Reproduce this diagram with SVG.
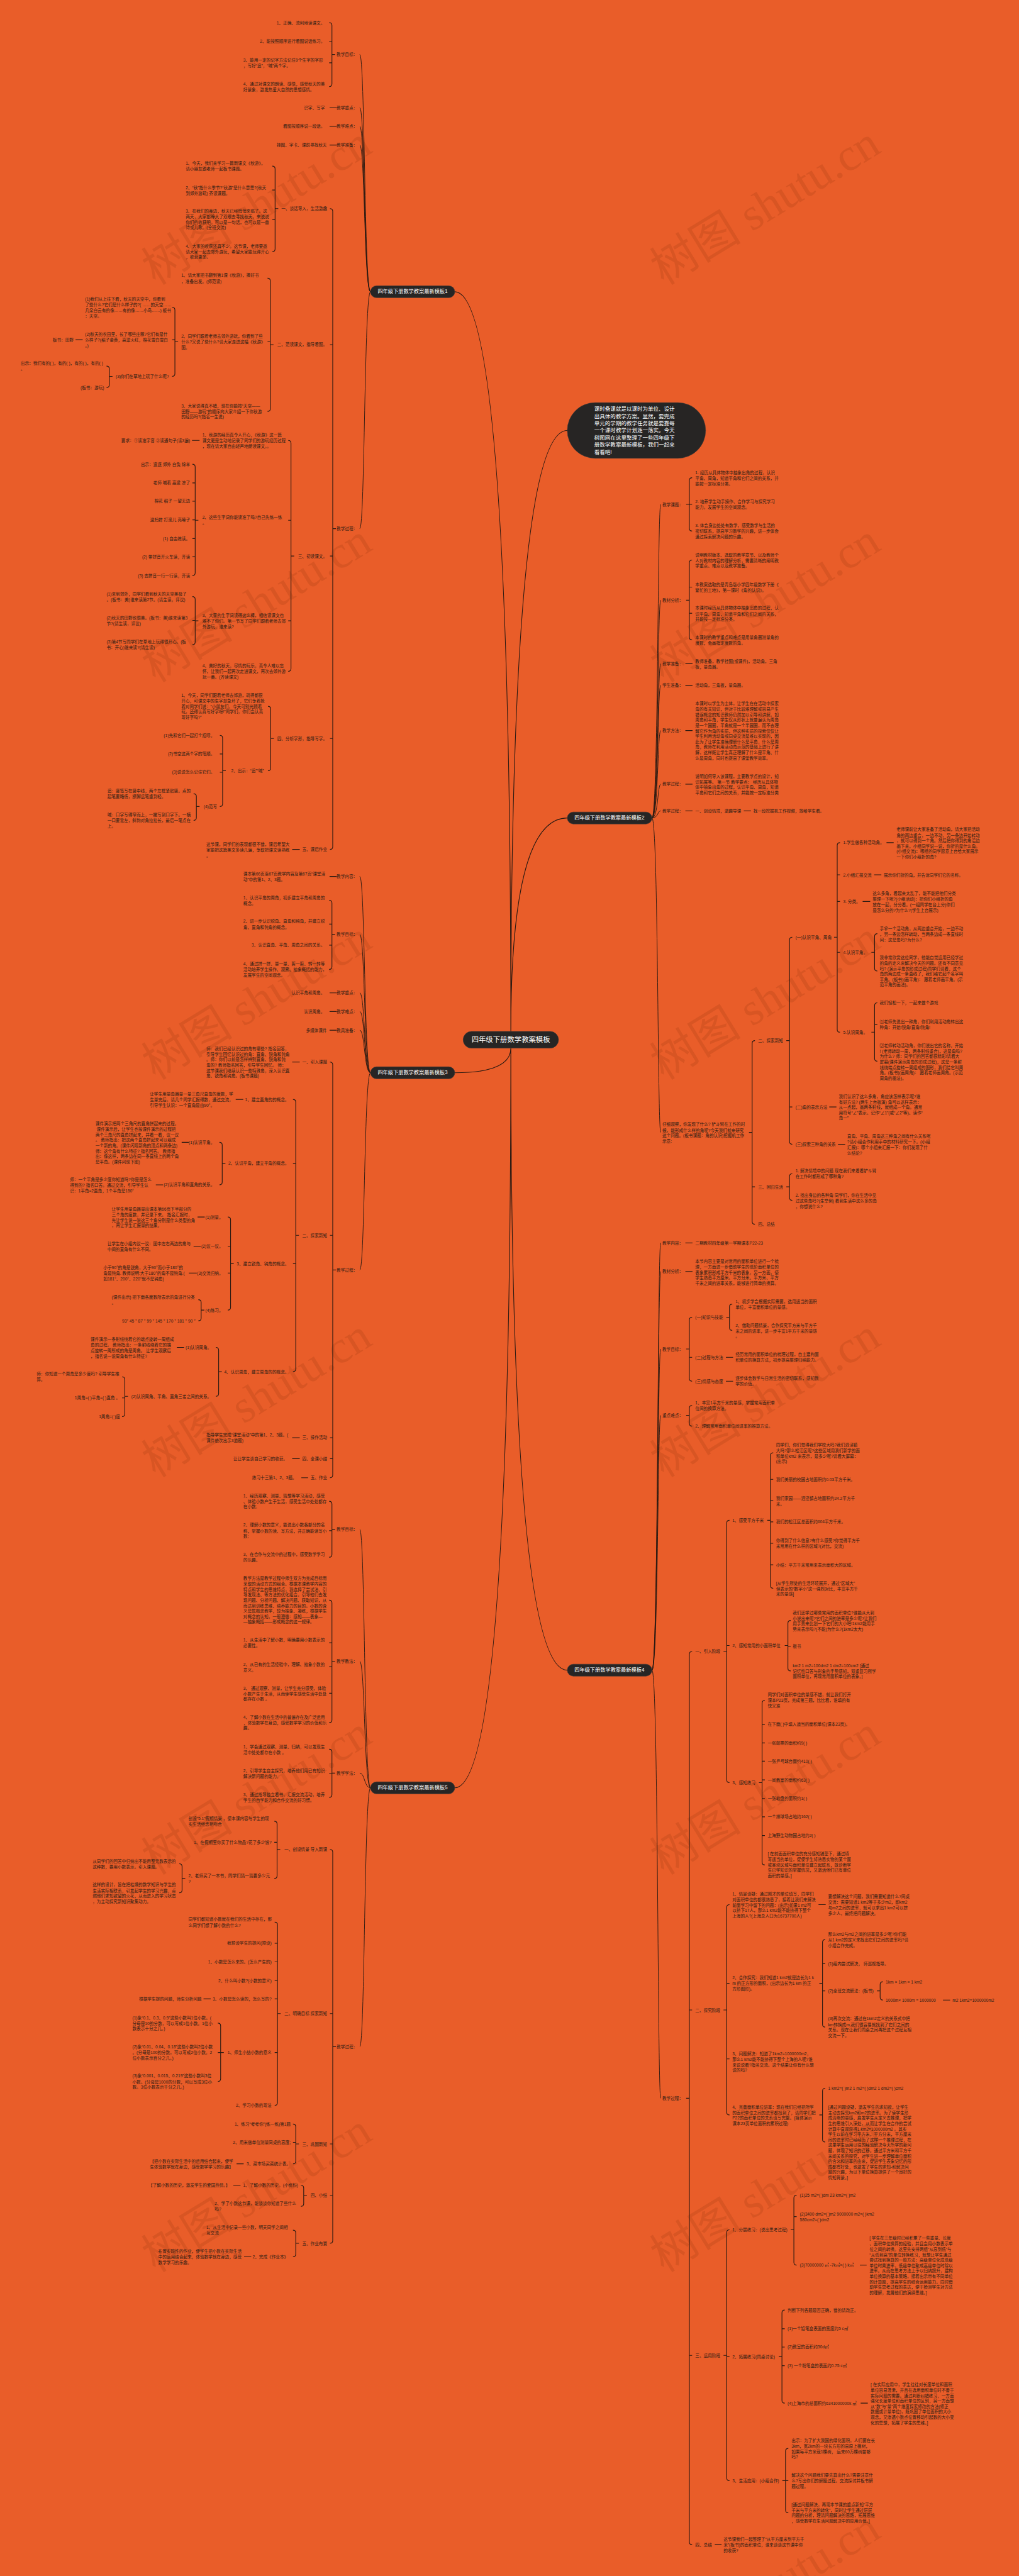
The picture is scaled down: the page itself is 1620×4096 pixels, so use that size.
<svg xmlns="http://www.w3.org/2000/svg" width="1620" height="4096" viewBox="0 0 1620 4096">
<style>
text{font-family:"Liberation Sans","Noto Sans CJK SC",sans-serif}
.t{font-size:10.5px;fill:#2b1c14;dominant-baseline:central}
.e{text-anchor:end}
.n{fill:#272524;stroke:#3d3a38;stroke-width:1}
.nt{font-size:13px;fill:#fff;text-anchor:middle;dominant-baseline:central}
.it{font-size:13.5px;fill:#fff;dominant-baseline:central}
.c{fill:none;stroke:#2a1a12;stroke-width:1.8}
.w{font-family:"Liberation Serif","Noto Sans CJK SC",serif;font-size:115px;fill:#7a2a0a;fill-opacity:.15;text-anchor:middle;dominant-baseline:central}
</style>
<rect width="1620" height="4096" fill="#E95D29"/>
<g transform="scale(0.632)">
<g id="watermarks">
<text class="w" x="646" y="517" transform="rotate(-31.5 646 517)">树图 shutu.cn</text>
<text class="w" x="646" y="1517" transform="rotate(-31.5 646 1517)">树图 shutu.cn</text>
<text class="w" x="646" y="2517" transform="rotate(-31.5 646 2517)">树图 shutu.cn</text>
<text class="w" x="646" y="3517" transform="rotate(-31.5 646 3517)">树图 shutu.cn</text>
<text class="w" x="646" y="4517" transform="rotate(-31.5 646 4517)">树图 shutu.cn</text>
<text class="w" x="646" y="5517" transform="rotate(-31.5 646 5517)">树图 shutu.cn</text>
<text class="w" x="1925" y="517" transform="rotate(-31.5 1925 517)">树图 shutu.cn</text>
<text class="w" x="1925" y="1517" transform="rotate(-31.5 1925 1517)">树图 shutu.cn</text>
<text class="w" x="1925" y="2517" transform="rotate(-31.5 1925 2517)">树图 shutu.cn</text>
<text class="w" x="1925" y="3517" transform="rotate(-31.5 1925 3517)">树图 shutu.cn</text>
<text class="w" x="1925" y="4517" transform="rotate(-31.5 1925 4517)">树图 shutu.cn</text>
<text class="w" x="1925" y="5517" transform="rotate(-31.5 1925 5517)">树图 shutu.cn</text>
<text class="w" x="1925" y="6517" transform="rotate(-31.5 1925 6517)">树图 shutu.cn</text>
</g>
<g id="connectors" class="c">
<path d="M1285,2595Q1285,734 1144,734M1285,2595Q1285,1083 1427,1083M1285,2595Q1285,2058 1427,2058M1285,2637Q1285,2699 1144,2699M1285,2637Q1285,4202 1427,4202M1285,2637Q1285,4498 1144,4498"/>
<path stroke-width="1.5" d="M932,734C916,734 918,137 905,137M932,734C916,734 918,271 905,271M932,734C916,734 918,318 905,318M932,734C916,734 918,365 905,365M932,734C916,734 918,1330 905,1330M932,2699C916,2699 918,2205 905,2205M932,2699C916,2699 918,2351 905,2351M932,2699C916,2699 918,2498 905,2498M932,2699C916,2699 918,2545 905,2545M932,2699C916,2699 918,2592 905,2592M932,2699C916,2699 918,3195 905,3195M932,4498C916,4498 918,3848 905,3848M932,4498C916,4498 918,4180 905,4180M932,4498C916,4498 918,4461 905,4461M932,4498C916,4498 918,5149 905,5149"/>
<path stroke-width="1.5" d="M1640,2058C1656,2058 1654,1269 1662,1269M1640,2058C1656,2058 1654,1510 1662,1510M1640,2058C1656,2058 1654,1670 1662,1670M1640,2058C1656,2058 1654,1724 1662,1724M1640,2058C1656,2058 1654,1838 1662,1838M1640,2058C1656,2058 1654,1973 1662,1973M1640,2058C1656,2058 1654,2040 1662,2040M1640,2058C1656,2058 1654,2849 1662,2849M1640,4202C1656,4202 1654,3127 1662,3127M1640,4202C1656,4202 1654,3199 1662,3199M1640,4202C1656,4202 1654,3394 1662,3394M1640,4202C1656,4202 1654,3561 1662,3561M1640,4202C1656,4202 1654,5279 1662,5279"/>
<path d="M828,57q7,0 7,7V211q0,7 -7,7M835,104h-7M835,158h-7M835,137h8
M830,525q7,0 7,7V2130q0,7 -7,7M837,867h-7M837,1399h-7M837,1858h-7M837,1330h8
M685,418q7,0 7,7V626q0,7 -7,7M692,478h-7M692,552h-7M692,525h8
M673,700q7,0 7,7V1028q0,7 -7,7M680,860h-7M680,867h8
M433,773q7,0 7,7V940q0,7 -7,7M440,855h-7M440,860h8
M268,921q7,0 7,7V968q0,7 -7,7M275,947h8
M725,1108q7,0 7,7V1682q0,7 -7,7M732,1309h-7M732,1562h-7M732,1399h8
M484,1168q7,0 7,7V1441q0,7 -7,7M491,1215h-7M491,1261h-7M491,1308h-7M491,1355h-7M491,1401h-7M491,1309h8
M484,1501q7,0 7,7V1615q0,7 -7,7M491,1561h-7M491,1562h8
M674,1777q7,0 7,7V1932q0,7 -7,7M681,1858h8
M553,1850q7,0 7,7V2022q0,7 -7,7M560,1897h-7M560,1943h-7M560,1939h8
M487,1997q7,0 7,7V2057q0,7 -7,7M494,2029h8
M829,271H847M829,318H847M829,365H847M483,1108H502M190,855H208M735,2137H754"/>
<path d="M828,2265q7,0 7,7V2432q0,7 -7,7M835,2325h-7M835,2378h-7M835,2351h8
M830,2672q7,0 7,7V3711q0,7 -7,7M837,3108h-7M837,3617h-7M837,3670h-7M837,3195h8
M737,2766q7,0 7,7V3444q0,7 -7,7M744,2927h-7M744,3179h-7M744,3108h8
M552,2874q7,0 7,7V2974q0,7 -7,7M559,2927h8
M573,3062q7,0 7,7V3289q0,7 -7,7M580,3136h-7M580,3203h-7M580,3179h8
M499,3270q7,0 7,7V3316q0,7 -7,7M506,3296h8
M543,3390q7,0 7,7V3506q0,7 -7,7M550,3451h8
M307,3464q7,0 7,7V3557q0,7 -7,7M314,3517h-7M314,3513h8
M829,2205H847M829,2498H847M829,2545H847M829,2592H847M735,2672H754M593,2766H612M457,2874H475M392,2981H410M497,3062H515M487,3136H505M475,3203H495M445,3390H463M735,3617H754M735,3670H754M758,3718H775"/>
<path d="M828,3777q7,0 7,7V3911q0,7 -7,7M835,3851h-7M835,3848h8
M828,4026q7,0 7,7V4327q0,7 -7,7M835,4133h-7M835,4193h-7M835,4260h-7M835,4180h8
M828,4401q7,0 7,7V4515q0,7 -7,7M835,4462h-7M835,4461h8
M830,4653q7,0 7,7V5637q0,7 -7,7M837,5066h-7M837,5394h-7M837,5523h-7M837,5149h8
M690,4582q7,0 7,7V4719q0,7 -7,7M697,4635h-7M697,4653h8
M451,4689q7,0 7,7V4755q0,7 -7,7M458,4726h8
M691,4836q7,0 7,7V5290q0,7 -7,7M698,4889h-7M698,4936h-7M698,4983h-7M698,5029h-7M698,5164h-7M698,5066h8
M548,5090q7,0 7,7V5230q0,7 -7,7M555,5164h-7M555,5164h8
M737,5344q7,0 7,7V5437q0,7 -7,7M744,5390h-7M744,5394h8
M757,5498q7,0 7,7V5544q0,7 -7,7M764,5523h8
M737,5611q7,0 7,7V5671q0,7 -7,7M744,5644h8
M512,5029H530M595,5444H613M587,5498H605M614,5678H632"/>
<path d="M1741,1202q-7,0 -7,7V1329q0,7 7,7M1734,1269h7M1734,1269h-8
M1741,1409q-7,0 -7,7V1603q0,7 7,7M1734,1477h7M1734,1543h7M1734,1510h-8
M1899,2618q-7,0 -7,7V3073q0,7 7,7M1892,2986h7M1892,2849h-8
M1993,2358q-7,0 -7,7V2872q0,7 7,7M1986,2785h7M1986,2618h-8
M2113,2120q-7,0 -7,7V2590q0,7 7,7M2106,2201h7M2106,2268h7M2106,2396h7M2106,2358h-8
M2207,2349q-7,0 -7,7V2436q0,7 7,7M2200,2396h-8
M2207,2523q-7,0 -7,7V2663q0,7 7,7M2200,2577h7M2200,2597h-8
M1993,2953q-7,0 -7,7V3013q0,7 7,7M1986,2986h-8
M1724,1670H1742M1724,1724H1742M1724,1838H1742M1724,1973H1742M1724,2040H1742M1871,2040H1889M2230,2120H2248M2199,2201H2217M2170,2268H2189M2086,2785H2104M2108,2879H2126"/>
<path d="M1741,3314q-7,0 -7,7V3468q0,7 7,7M1734,3415h7M1734,3394h-8
M1842,3281q-7,0 -7,7V3340q0,7 7,7M1835,3314h-8
M1741,3536q-7,0 -7,7V3581q0,7 7,7M1734,3561h-8
M1741,4155q-7,0 -7,7V6395q0,7 7,7M1734,5057h7M1734,5926h7M1734,5279h-8
M1835,3825q-7,0 -7,7V4478q0,7 7,7M1828,4140h7M1828,4155h-8
M1945,3655q-7,0 -7,7V3989q0,7 7,7M1938,3722h7M1938,3776h7M1938,3829h7M1938,3883h7M1938,3937h7M1938,3825h-8
M1989,4077q-7,0 -7,7V4197q0,7 7,7M1982,4142h7M1982,4140h-8
M1924,4278q-7,0 -7,7V4685q0,7 7,7M1917,4338h7M1917,4385h7M1917,4431h7M1917,4478h7M1917,4525h7M1917,4571h7M1917,4618h7M1917,4485h-8
M1835,4792q-7,0 -7,7V5314q0,7 7,7M1828,4990h7M1828,5180h7M1828,5057h-8
M2076,4880q-7,0 -7,7V5093q0,7 7,7M2069,4940h7M2069,5009h7M2069,4990h-8
M2221,4986q-7,0 -7,7V5025q0,7 7,7M2214,5009h-8
M2076,5254q-7,0 -7,7V5382q0,7 7,7M2069,5321h-8
M1835,5610q-7,0 -7,7V6234q0,7 7,7M1828,5929h7M1828,5926h-8
M2004,5523q-7,0 -7,7V5692q0,7 7,7M1997,5577h7M1997,5610h-8
M1974,5812q-7,0 -7,7V6039q0,7 7,7M1967,5859h7M1967,5905h7M1967,5952h7M1967,5929h-8
M1983,6160q-7,0 -7,7V6315q0,7 7,7M1976,6241h7M1976,6241h-8
M1724,3127H1742M1724,3199H1742M1826,3415H1844M1826,3475H1844M2059,4792H2077M2372,5032H2390M2163,5699H2180M2165,6046H2183M1798,6402H1815"/>
</g>
<g id="root"><rect class="n" x="1165" y="2595" width="240" height="42" rx="21"/><text class="nt" x="1285" y="2616" style="font-size:18px">四年级下册数学教案模板</text></g>
<g id="intro"><rect class="n" x="1427" y="1013" width="348" height="140" rx="70"/><text class="it" x="1495" y="1029">课时备课就是以课时为单位、设计<tspan x="1495" dy="18">出具体的教学方案。显然，要完成</tspan><tspan x="1495" dy="18">单元的学期的教学任务就是要靠每</tspan><tspan x="1495" dy="18">一个课时教学计划逐一落实。今天</tspan><tspan x="1495" dy="18">树图网在这里整理了一些四年级下</tspan><tspan x="1495" dy="18">册数学教案最新模板，我们一起来</tspan><tspan x="1495" dy="18">看看吧!</tspan></text></g>
<g id="b1"><rect class="n" x="932" y="719" width="212" height="30" rx="15"/><text class="nt" x="1038" y="734">四年级下册数学教案最新模板1</text></g>
<g id="b2"><rect class="n" x="1427" y="2043" width="213" height="30" rx="15"/><text class="nt" x="1533" y="2058">四年级下册数学教案最新模板2</text></g>
<g id="b3"><rect class="n" x="932" y="2684" width="212" height="30" rx="15"/><text class="nt" x="1038" y="2699">四年级下册数学教案最新模板3</text></g>
<g id="b4"><rect class="n" x="1427" y="4187" width="213" height="30" rx="15"/><text class="nt" x="1533" y="4202">四年级下册数学教案最新模板4</text></g>
<g id="b5"><rect class="n" x="932" y="4483" width="212" height="30" rx="15"/><text class="nt" x="1038" y="4498">四年级下册数学教案最新模板5</text></g>

<g id="b1-nodes">
<g id="b1a"><text class="t e" x="899" y="137">教学目标：</text></g>
<g id="b1b"><text class="t e" x="899" y="271">教学重点：</text></g>
<g id="b1c"><text class="t e" x="899" y="318">教学难点：</text></g>
<g id="b1d"><text class="t e" x="899" y="365">教学准备：</text></g>
<g id="b1e"><text class="t e" x="899" y="1330">教学过程：</text></g>
<g id="b1a1"><text class="t e" x="817" y="57">1、正确、流利地读课文。</text></g>
<g id="b1a2"><text class="t e" x="817" y="104">2、能按照顺序进行看图说话练习。</text></g>
<g id="b1a3"><text class="t" x="612" y="151">3、能用一定的记字方法记住9个生字的字形<tspan x="612" dy="13.6">，写好“追”，“喊”两个字。</tspan></text></g>
<g id="b1a4"><text class="t" x="612" y="211">4、通过对课文的朗读、感悟，感受秋天的美<tspan x="612" dy="13.6">好景象，激发热爱大自然的思想感情。</tspan></text></g>
<g id="b1b1"><text class="t e" x="817" y="271">识字、写字</text></g>
<g id="b1c1"><text class="t e" x="817" y="318">看图按顺序说一段话。</text></g>
<g id="b1d1"><text class="t e" x="822" y="365">挂图、字卡、课前寻找秋天</text></g>
<g id="b1e1"><text class="t e" x="823" y="525">一、谈话导入，生活激趣</text></g>
<g id="b1e2"><text class="t e" x="823" y="867">二、范读课文，指导看图。</text></g>
<g id="b1e3"><text class="t e" x="823" y="1399">三、初读课文。</text></g>
<g id="b1e4"><text class="t e" x="823" y="1858">四、分析字形，指导写字。</text></g>
<g id="b1e5"><text class="t e" x="823" y="2137">五、课后作业</text></g>
<g id="b1e1a"><text class="t" x="467" y="411">1、今天，我们来学习一篇新课文《秋游》，<tspan x="467" dy="13.6">请小朋友跟老师一起板书课题。</tspan></text></g>
<g id="b1e1b"><text class="t" x="467" y="472">2、“秋”指什么季节?“秋游”是什么意思?(秋天<tspan x="467" dy="13.6">到郊外游玩) 齐读课题。</tspan></text></g>
<g id="b1e1c"><text class="t" x="467" y="531">3、在我们的身边，秋天已经悄悄来临了。这<tspan x="467" dy="13.6">两天，大家都睁大了双眼去寻找秋天，来说说</tspan><tspan x="467" dy="13.6">你们的收获吧。可以是一句话，也可以是一首</tspan><tspan x="467" dy="13.6">诗或儿歌。(全班交流)</tspan></text></g>
<g id="b1e1d"><text class="t" x="467" y="619">4、大家的收获还真不少。这节课，老师要邀<tspan x="467" dy="13.6">请大家一起去郊外游玩，希望大家能玩得开心</tspan><tspan x="467" dy="13.6">，收获更多。</tspan></text></g>
<g id="b1e2a"><text class="t" x="456" y="693">1、请大家把书翻到第1课《秋游》，捧好书<tspan x="456" dy="13.6">，准备出发。(师范读)</tspan></text></g>
<g id="b1e2b"><text class="t" x="456" y="846">2、同学们跟着老师去郊外游玩，你看到了些<tspan x="456" dy="13.6">什么?又说了些什么?请大家走进这幅《秋游》</tspan><tspan x="456" dy="13.6">图。</tspan></text></g>
<g id="b1e2c"><text class="t" x="456" y="1021">3、大家说得真不错，现在你能按“天空——<tspan x="456" dy="13.6">田野——游玩”的顺序向大家介绍一下你秋游</tspan><tspan x="456" dy="13.6">的经历吗?(指名一生说)</tspan></text></g>
<g id="b1e2b1"><text class="t" x="214" y="753">(1)我们从上往下看，秋天的天空中，你看到<tspan x="214" dy="13.6">了些什么?它们是什么样子的?( ……的天空……</tspan><tspan x="214" dy="13.6">几朵白云有的像……有的像……小鸟……) 板书</tspan><tspan x="214" dy="13.6">：天空。</tspan></text></g>
<g id="b1e2b2"><text class="t" x="214" y="841">(2)秋天的农田里，长了哪些庄稼?它们有是什<tspan x="214" dy="13.6">么样子?(稻子金黄，高粱火红，棉花雪白雪白</tspan><tspan x="214" dy="13.6">。)</tspan></text></g>
<g id="b1e2b2a"><text class="t e" x="185" y="855">板书：田野</text></g>
<g id="b1e2b3"><text class="t e" x="425" y="947">(3)你们在草地上玩了什么呢?</text></g>
<g id="b1e2b3a"><text class="t" x="52" y="914">出示：我们有的( )，有的( )，有的( )，有的( )<tspan x="52" dy="13.6">。</tspan></text></g>
<g id="b1e2b3b"><text class="t e" x="262" y="975">(板书：游玩)</text></g>
<g id="b1e3a"><text class="t" x="509" y="1094">1、秋游的经历真令人开心，《秋游》这一篇<tspan x="509" dy="13.6">课文更是生动地记录了同学们的游玩经历过程</tspan><tspan x="509" dy="13.6">，现在请大家自由轻声地朗读课文。。</tspan></text></g>
<g id="b1e3a1"><text class="t e" x="478" y="1108">要求：①读准字音 ②读通句子(读3遍)</text></g>
<g id="b1e3b"><text class="t" x="509" y="1302">2、这些生字词你能读准了吗?自己先练一练<tspan x="509" dy="13.6">。</tspan></text></g>
<g id="b1e3b1"><text class="t e" x="478" y="1168">出示：追逐 郊外 白兔 绵羊</text></g>
<g id="b1e3b2"><text class="t e" x="478" y="1215">老师 喊着 高粱 凉了</text></g>
<g id="b1e3b3"><text class="t e" x="478" y="1261">棉花 稻子 一望无边</text></g>
<g id="b1e3b4"><text class="t e" x="478" y="1308">逮蚂蚱 打滚儿 亮嗓子</text></g>
<g id="b1e3b5"><text class="t e" x="478" y="1355">(1) 自由练读。</text></g>
<g id="b1e3b6"><text class="t e" x="478" y="1401">(2) 带拼音开火车读，齐读</text></g>
<g id="b1e3b7"><text class="t e" x="478" y="1448">(3) 去拼音一行一行读，齐读</text></g>
<g id="b1e3c"><text class="t" x="509" y="1548">3、大家的生字词读得这么棒，相信读课文也<tspan x="509" dy="13.6">难不了你们。第一节写了同学们跟着老师去郊</tspan><tspan x="509" dy="13.6">外游玩，谁来读?</tspan></text></g>
<g id="b1e3c1"><text class="t" x="268" y="1495">(1)来到郊外，同学们看到秋天的天空美极了<tspan x="268" dy="13.6">。(板书：美)谁来读第2节。(请生读，评议)</tspan></text></g>
<g id="b1e3c2"><text class="t" x="268" y="1555">(2)秋天的田野也很美。(板书：美)谁来读第3<tspan x="268" dy="13.6">节?(请生读，评议)</tspan></text></g>
<g id="b1e3c3"><text class="t" x="268" y="1615">(3)第4节写同学们在草地上玩得很开心。(板<tspan x="268" dy="13.6">书：开心)谁来读?(请生读)</tspan></text></g>
<g id="b1e3d"><text class="t" x="509" y="1675">4、美好的秋天，尽情的玩乐，真令人难以忘<tspan x="509" dy="13.6">怀，让我们一起再次走进课文，再次去郊外游</tspan><tspan x="509" dy="13.6">玩一番。(齐读课文)</tspan></text></g>
<g id="b1e4a"><text class="t" x="456" y="1749">1、今天，同学们跟着老师去郊游，玩得都很<tspan x="456" dy="13.6">开心，可课文中的生字却急坏了，它们争着抢</tspan><tspan x="456" dy="13.6">着对同学们说：“小朋友们，今天可别光顾着</tspan><tspan x="456" dy="13.6">玩，还得认真写好字呀!”同学们，你们会认真</tspan><tspan x="456" dy="13.6">写好字吗?”</tspan></text></g>
<g id="b1e4b"><text class="t e" x="664" y="1939">2、出示：“追”“喊”</text></g>
<g id="b1e4b1"><text class="t e" x="540" y="1850">(1)先和它们一起打个招呼。</text></g>
<g id="b1e4b2"><text class="t e" x="540" y="1897">(2)书空这两个字的笔顺。</text></g>
<g id="b1e4b3"><text class="t e" x="540" y="1943">(3)说说怎么记住它们。</text></g>
<g id="b1e4b4"><text class="t e" x="546" y="2029">(4)范写</text></g>
<g id="b1e4b4a"><text class="t" x="270" y="1990">追：竖笔写在竖中线，两个左框紧贴竖。点的<tspan x="270" dy="13.6">起笔要略低，撩脚运笔重到轻。</tspan></text></g>
<g id="b1e4b4b"><text class="t" x="270" y="2050">喊：口字写得窄而上，一撇写到口字下。一横<tspan x="270" dy="13.6">一口要靠左，斜钩对角拉拉长，最后一笔点在</tspan><tspan x="270" dy="13.6">上。</tspan></text></g>
<g id="b1e5a"><text class="t" x="519" y="2124">这节课，同学们的表现都很不错，课后希望大<tspan x="519" dy="13.6">家能把这篇美文多读几遍，争取把课文读熟练</tspan><tspan x="519" dy="13.6">。</tspan></text></g>
</g>

<g id="b3-nodes">
<g id="b3a"><text class="t e" x="899" y="2205">教学内容：</text></g>
<g id="b3b"><text class="t e" x="899" y="2351">教学目标：</text></g>
<g id="b3c"><text class="t e" x="899" y="2498">教学重点：</text></g>
<g id="b3d"><text class="t e" x="899" y="2545">教学难点：</text></g>
<g id="b3e"><text class="t e" x="899" y="2592">教具准备：</text></g>
<g id="b3f"><text class="t e" x="899" y="3195">教学过程：</text></g>
<g id="b3a1"><text class="t" x="612" y="2198">课本第66页至67页教学内容及第67页“课堂活<tspan x="612" dy="13.6">动”中的第1、2、3题。</tspan></text></g>
<g id="b3b1"><text class="t" x="612" y="2258">1、认识平角的周角，初步建立平角和周角的<tspan x="612" dy="13.6">概念。</tspan></text></g>
<g id="b3b2"><text class="t" x="612" y="2318">2、进一步认识锐角、直角和钝角，并建立锐<tspan x="612" dy="13.6">角、直角和钝角的概念。</tspan></text></g>
<g id="b3b3"><text class="t e" x="817" y="2378">3、认识直角、平角、周角之间的关系。</text></g>
<g id="b3b4"><text class="t" x="612" y="2425">4、通过拼一拼、量一量、剪一剪、转一转等<tspan x="612" dy="13.6">活动培养学生操作、观察、抽象概括的能力，</tspan><tspan x="612" dy="13.6">发展学生的空间观念。</tspan></text></g>
<g id="b3c1"><text class="t e" x="817" y="2498">认识平角和周角。</text></g>
<g id="b3d1"><text class="t e" x="817" y="2545">认识周角。</text></g>
<g id="b3e1"><text class="t e" x="822" y="2592">多媒体课件</text></g>
<g id="b3f1"><text class="t e" x="823" y="2672">一、引入课题</text></g>
<g id="b3f2"><text class="t e" x="823" y="3108">二、探索新知</text></g>
<g id="b3f3"><text class="t e" x="823" y="3617">三、操作活动</text></g>
<g id="b3f4"><text class="t e" x="823" y="3670">四、全课小结</text></g>
<g id="b3f5"><text class="t e" x="823" y="3718">五、作业</text></g>
<g id="b3f1a"><text class="t" x="519" y="2638">师：我们已经认识过的角有哪些? 指名回答，<tspan x="519" dy="13.6">引导学生回忆认识过的角：直角、锐角和钝角</tspan><tspan x="519" dy="13.6">。师：你们以前是怎样辨别直角、锐角和钝</tspan><tspan x="519" dy="13.6">角的? 教师指名回答，引导学生回忆。 师：</tspan><tspan x="519" dy="13.6">这节课我们继续认识一些特殊角，深入认识直</tspan><tspan x="519" dy="13.6">角、锐角和钝角。(板书课题)</tspan></text></g>
<g id="b3f2a"><text class="t e" x="727" y="2766">1、建立直角的的概念。</text></g>
<g id="b3f2b"><text class="t e" x="727" y="2927">2、认识平角，建立平角的概念。</text></g>
<g id="b3f2c"><text class="t e" x="727" y="3179">3、建立锐角、钝角的概念。</text></g>
<g id="b3f2d"><text class="t e" x="727" y="3451">4、认识周角，建立周角的的概念。</text></g>
<g id="b3f2a1"><text class="t" x="377" y="2753">让学生用量角器量一量三角尺直角的度数，学<tspan x="377" dy="13.6">生量完后，请几个同学汇报得数，通过交流，</tspan><tspan x="377" dy="13.6">引导学生认识：一个直角是由90°。</tspan></text></g>
<g id="b3f2b1"><text class="t e" x="540" y="2874">(1)认识平角。</text></g>
<g id="b3f2b2"><text class="t e" x="540" y="2981">(2)认识平角和直角的关系。</text></g>
<g id="b3f2b1a"><text class="t" x="240" y="2827">课件演示把两个三角尺的直角拼起来的过程。<tspan x="240" dy="13.6"> 课件演示后，让学生也按课件演示的过程把</tspan><tspan x="240" dy="13.6">两个三角尺的直角拼起来，并看一看，议一议</tspan><tspan x="240" dy="13.6">。 教师指出：把这两个直角拼起来可以组成</tspan><tspan x="240" dy="13.6">一个新的角。(课件闪现新角的顶点和两条边)</tspan><tspan x="240" dy="13.6">师：这个角有什么特征? 指名回答。 教师指</tspan><tspan x="240" dy="13.6">出：像这样，两条边在同一条直线上的两个角</tspan><tspan x="240" dy="13.6">是平角。(课件闪现下图)</tspan></text></g>
<g id="b3f2b2a"><text class="t" x="176" y="2968">师：一个平角是多少度你知道吗?你是是怎么<tspan x="176" dy="13.6">得到的? 指名口答。通过交流，引导学生认</tspan><tspan x="176" dy="13.6">识：1平角=2直角，1个平角是180°</tspan></text></g>
<g id="b3f2c1"><text class="t e" x="561" y="3062">(1)测量。</text></g>
<g id="b3f2c2"><text class="t e" x="561" y="3136">(2)议一议。</text></g>
<g id="b3f2c3"><text class="t e" x="561" y="3203">(3)交流归纳。</text></g>
<g id="b3f2c4"><text class="t e" x="561" y="3296">(4)练习。</text></g>
<g id="b3f2c1a"><text class="t" x="281" y="3042">让学生用量角器量出课本第66页下半部分的<tspan x="281" dy="13.6">三个角的度数，并记录下来。 指名汇报时，</tspan><tspan x="281" dy="13.6">先让学生说一说这三个角分别是什么类型的角</tspan><tspan x="281" dy="13.6">，再让学生汇报量的结果。</tspan></text></g>
<g id="b3f2c2a"><text class="t" x="270" y="3129">让学生在小组内议一议：图中左右两边的角与<tspan x="270" dy="13.6">中间的直角有什么不同。</tspan></text></g>
<g id="b3f2c3a"><text class="t" x="260" y="3189">小于90°的角是锐角，大于90°而小于180°的<tspan x="260" dy="13.6">角是钝角. 教师说明:大于180°的角不是钝角.(</tspan><tspan x="260" dy="13.6">如181°、200°、220°就不是钝角)</tspan></text></g>
<g id="b3f2c4a"><text class="t" x="281" y="3263">(课件出示) 把下面各度数所表示的角进行分类<tspan x="281" dy="13.6">。</tspan></text></g>
<g id="b3f2c4b"><text class="t e" x="492" y="3323">93° 45 ° 87 ° 99 ° 145 ° 170 ° 181 ° 90 °</text></g>
<g id="b3f2d1"><text class="t e" x="532" y="3390">(1)认识周角。</text></g>
<g id="b3f2d2"><text class="t e" x="532" y="3513">(2)认识周角、平角、直角三者之间的关系。</text></g>
<g id="b3f2d1a"><text class="t" x="228" y="3370">课件演示一条射线绕着它的端点旋转一周组成<tspan x="228" dy="13.6">角的过程。 教师指出：一条射线绕着它的端</tspan><tspan x="228" dy="13.6">点旋转一周所成的角是周角。 让学生观察后</tspan><tspan x="228" dy="13.6">，指名说一说周角有什么特征?</tspan></text></g>
<g id="b3f2d2a"><text class="t" x="92" y="3457">师：你知道一个周角是多少度吗? 引导学生推<tspan x="92" dy="13.6">算。</tspan></text></g>
<g id="b3f2d2b"><text class="t e" x="302" y="3517">1周角=( )平角=( )直角 。</text></g>
<g id="b3f2d2c"><text class="t e" x="302" y="3564">1周角=( )度</text></g>
<g id="b3f3a"><text class="t" x="519" y="3610">指导学生完成“课堂活动”中的第1、2、3题。(<tspan x="519" dy="13.6">课件依次出示3道题)</tspan></text></g>
<g id="b3f4a"><text class="t e" x="723" y="3670">让让学生谈自己学习的收获。</text></g>
<g id="b3f5a"><text class="t e" x="746" y="3718">练习十三第1、2、3题。</text></g>
</g>

<g id="b5-nodes">
<g id="b5a"><text class="t e" x="899" y="3848">教学目标：</text></g>
<g id="b5b"><text class="t e" x="899" y="4180">教学教法：</text></g>
<g id="b5c"><text class="t e" x="899" y="4461">教学学法：</text></g>
<g id="b5d"><text class="t e" x="899" y="5149">教学过程：</text></g>
<g id="b5a1"><text class="t" x="612" y="3763">1、经历观察、测量、猜想等学习活动，感受<tspan x="612" dy="13.6">、体验小数产生于生活，感受生活中处处都存</tspan><tspan x="612" dy="13.6">在小数;</tspan></text></g>
<g id="b5a2"><text class="t" x="612" y="3837">2、理解小数的意义，能说出小数各部分的名<tspan x="612" dy="13.6">称，掌握小数的读、写方法，并正确能读写小</tspan><tspan x="612" dy="13.6">数;</tspan></text></g>
<g id="b5a3"><text class="t" x="612" y="3911">3、在合作与交流中的过程中，感受数学学习<tspan x="612" dy="13.6">的乐趣。</tspan></text></g>
<g id="b5b1"><text class="t" x="612" y="3971">教学方法是教学过程中师生双方为完成目标而<tspan x="612" dy="13.6">采取的活动方式的组合。根据本课教学内容的</tspan><tspan x="612" dy="13.6">特点和学生的思维特点，我选择了尝试法、引</tspan><tspan x="612" dy="13.6">导发现法、等方法的优化组合。引导他们去发</tspan><tspan x="612" dy="13.6">现问题、分析问题、解决问题、获取知识，从</tspan><tspan x="612" dy="13.6">而达到训练思维、培养能力的目的。小数的含</tspan><tspan x="612" dy="13.6">义是属概念教学，较为抽象、凝练，根据学生</tspan><tspan x="612" dy="13.6">对概念的认知，一般遵循：感知——表象—</tspan><tspan x="612" dy="13.6">—抽象概括——形成概念的这一规律。</tspan></text></g>
<g id="b5b2"><text class="t" x="612" y="4126">1、从生活中了解小数，明确要用小数表示的<tspan x="612" dy="13.6">必要性。</tspan></text></g>
<g id="b5b3"><text class="t" x="612" y="4187">2、从已有的生活经验中，理解、抽象小数的<tspan x="612" dy="13.6">意义。</tspan></text></g>
<g id="b5b4"><text class="t" x="612" y="4247">3、 通过观察、测量，让学生充分感受、体验<tspan x="612" dy="13.6">小数产生于生活，从而使学生感受生活中处处</tspan><tspan x="612" dy="13.6">都存在小数 。</tspan></text></g>
<g id="b5b5"><text class="t" x="612" y="4320">4、了解小数在生活中的普遍存在及广泛运用<tspan x="612" dy="13.6">，体验数学在身边，感受数学学习的价值和乐</tspan><tspan x="612" dy="13.6">趣。</tspan></text></g>
<g id="b5c1"><text class="t" x="612" y="4395">1、学会通过观察、测量、归纳，可以发现生<tspan x="612" dy="13.6">活中处处都存在小数 。</tspan></text></g>
<g id="b5c2"><text class="t" x="612" y="4455">2、引导学生自主探究，培养他们用已有知识<tspan x="612" dy="13.6">解决新问题的能力。</tspan></text></g>
<g id="b5c3"><text class="t" x="612" y="4515">3、通过指导独立看书，汇报交流活动，培养<tspan x="612" dy="13.6">学生的自学能力和合作交流的好习惯。</tspan></text></g>
<g id="b5d1"><text class="t e" x="823" y="4653">一、创设情景 导入新课</text></g>
<g id="b5d2"><text class="t e" x="823" y="5066">二、明确目标 探索新知</text></g>
<g id="b5d3"><text class="t e" x="823" y="5394">三、巩固新知</text></g>
<g id="b5d4"><text class="t e" x="823" y="5523">四、小结</text></g>
<g id="b5d5"><text class="t e" x="823" y="5644">五、作业布置</text></g>
<g id="b5d1a"><text class="t" x="474" y="4575">创设“5.1”假期情景 ，使本课内容与学生的现<tspan x="474" dy="13.6">实生活经念相吻合</tspan></text></g>
<g id="b5d1b"><text class="t e" x="683" y="4635">1、在假期里你买了什么物品?花了多少钱?</text></g>
<g id="b5d1c"><text class="t" x="474" y="4719">2、老师买了一本书，同学们猜一猜要多少元<tspan x="474" dy="13.6">?</tspan></text></g>
<g id="b5d1c1"><text class="t" x="233" y="4682">从同学们的回答中归纳出不能用整元数表示的<tspan x="233" dy="13.6">这种数，要用小数表示。引入课题。</tspan></text></g>
<g id="b5d1c2"><text class="t" x="233" y="4742">这样的设计，旨在把枯燥的数学知识与学生的<tspan x="233" dy="13.6">生活实际相联系，引发起学生的学习兴趣，点</tspan><tspan x="233" dy="13.6">燃他们求知欲望的火花，从而进入的学习状态</tspan><tspan x="233" dy="13.6">，为主动探究新知识聚集动力。</tspan></text></g>
<g id="b5d2a"><text class="t" x="474" y="4829">同学们都知道小数就在我们的生活中存在，那<tspan x="474" dy="13.6">么同学们想了解小数的什么?</tspan></text></g>
<g id="b5d2b"><text class="t e" x="683" y="4889">我预设学生的提问(预设)</text></g>
<g id="b5d2c"><text class="t e" x="683" y="4936">1、小数是怎么来的。(怎么产生的)</text></g>
<g id="b5d2d"><text class="t e" x="683" y="4983">2、什么叫小数?(小数的意义)</text></g>
<g id="b5d2e"><text class="t e" x="683" y="5029">3、小数是怎么读的，怎么写的?</text></g>
<g id="b5d2e1"><text class="t e" x="507" y="5029">根据学生提的问题，师生分析问题</text></g>
<g id="b5d2f"><text class="t e" x="683" y="5164">1、师生小结小数的意义</text></g>
<g id="b5d2f1"><text class="t" x="333" y="5076">(1)象“0.1、0.3、0.9”这些小数叫1位小数。(<tspan x="333" dy="13.6">分母是10的分数，可以写成1位小数。1位小</tspan><tspan x="333" dy="13.6">数表示十分之几。)</tspan></text></g>
<g id="b5d2f2"><text class="t" x="333" y="5150">(2)象“0.01、0.04、0.18”这些小数叫2位小数<tspan x="333" dy="13.6">。(分母是100的分数，可以写成2位小数。2</tspan><tspan x="333" dy="13.6">位小数表示百分之几。)</tspan></text></g>
<g id="b5d2f3"><text class="t" x="333" y="5223">(3)象“0.001、0.015、0.219”这些小数叫3位<tspan x="333" dy="13.6">小数。(分母是1000的分数，可以写成3位小</tspan><tspan x="333" dy="13.6">数。3位小数表示千分之几。)</tspan></text></g>
<g id="b5d2g"><text class="t e" x="683" y="5297">2、学习小数的写法</text></g>
<g id="b5d3a"><text class="t e" x="731" y="5344">1、练习“考考你”(练一练)第1题</text></g>
<g id="b5d3b"><text class="t e" x="731" y="5390">2、用米做单位测量同桌的高度;</text></g>
<g id="b5d3c"><text class="t e" x="731" y="5444">3、菜市场买菜统计表。</text></g>
<g id="b5d3c1"><text class="t" x="377" y="5437">【把小数在实际生活中的运用结合起来，使学<tspan x="377" dy="13.6">生体验数学就在身边，感受数学学习的乐趣】</tspan></text></g>
<g id="b5d4a"><text class="t e" x="750" y="5498">1、了解小数的历史。(小资料)</text></g>
<g id="b5d4a1"><text class="t e" x="578" y="5498">【了解小数的历史，激发学生的爱国热情。】</text></g>
<g id="b5d4b"><text class="t" x="540" y="5544">2、学了小数这节课，能谈谈你知道了些什么<tspan x="540" dy="13.6">吗?</tspan></text></g>
<g id="b5d5a"><text class="t" x="519" y="5604">1、从生活中记录一些小数，明天同学之间相<tspan x="519" dy="13.6">互交流</tspan></text></g>
<g id="b5d5b"><text class="t e" x="725" y="5678">2、完成《作业本》</text></g>
<g id="b5d5b1"><text class="t" x="398" y="5664">布置实践性的作业，使学生把小数在实际生活<tspan x="398" dy="13.6">中的运用结合起来，体验数学就在身边，感受</tspan><tspan x="398" dy="13.6">数学学习的乐趣。</tspan></text></g>
</g>

<g id="b2-nodes">
<g id="b2a"><text class="t" x="1666" y="1269">教学课题：</text></g>
<g id="b2b"><text class="t" x="1666" y="1510">教材分析：</text></g>
<g id="b2c"><text class="t" x="1666" y="1670">教学准备：</text></g>
<g id="b2d"><text class="t" x="1666" y="1724">学生准备：</text></g>
<g id="b2e"><text class="t" x="1666" y="1838">教学方法：</text></g>
<g id="b2f"><text class="t" x="1666" y="1973">教学过程：</text></g>
<g id="b2g"><text class="t" x="1666" y="2040">教学过程：</text></g>
<g id="b2h"><text class="t" x="1666" y="2829">仔细观察，你发现了什么? 铲斗臂在工作的时<tspan x="1666" dy="13.6">候，能形成什么样的角呢?今天我们就来研究</tspan><tspan x="1666" dy="13.6">这个问题。(板书课题：角的认识)挖掘机工作</tspan><tspan x="1666" dy="13.6">示意:</tspan></text></g>
<g id="b2a1"><text class="t" x="1749" y="1189">1. 经历从具体物体中抽象出角的过程，认识<tspan x="1749" dy="13.6">平角、周角，知道平角和它们之间的关系，并</tspan><tspan x="1749" dy="13.6">能按一定标准分类。</tspan></text></g>
<g id="b2a2"><text class="t" x="1749" y="1262">2. 培养学生动手操作、合作学习与探究学习<tspan x="1749" dy="13.6">能力。发展学生的空间观念。</tspan></text></g>
<g id="b2a3"><text class="t" x="1749" y="1322">3. 体会身边处处有数学，感受数学与生活的<tspan x="1749" dy="13.6">密切联系，提高学习数学的兴趣，进一步体会</tspan><tspan x="1749" dy="13.6">通过探索解决问题的乐趣。</tspan></text></g>
<g id="b2b1"><text class="t" x="1749" y="1396">说明教材版本、选取的教学章节、以及教师个<tspan x="1749" dy="13.6">人对教材内容的理解分析，需要清晰的阐明教</tspan><tspan x="1749" dy="13.6">学重点、难点以及教学准备。</tspan></text></g>
<g id="b2b2"><text class="t" x="1749" y="1470">本教案选取的是青岛版小学四年级数学下册《<tspan x="1749" dy="13.6">繁忙的工地》，第一课时《角的认识》。</tspan></text></g>
<g id="b2b3"><text class="t" x="1749" y="1530">本课时经历从具体物体中抽象出角的过程，认<tspan x="1749" dy="13.6">识平角、周角，知道平角和它们之间的关系，</tspan><tspan x="1749" dy="13.6">并能按一定标准分类。</tspan></text></g>
<g id="b2b4"><text class="t" x="1749" y="1604">本课时的教学重点和难点是用量角器测量角的<tspan x="1749" dy="13.6">度数，会画指定度数的角。</tspan></text></g>
<g id="b2c1"><text class="t" x="1749" y="1664">教师准备，教学挂图(或课件)，活动角，三角<tspan x="1749" dy="13.6">板，量角器。</tspan></text></g>
<g id="b2d1"><text class="t" x="1749" y="1724">活动角，三角板，量角器。</text></g>
<g id="b2e1"><text class="t" x="1749" y="1770">本课时以学生为主体，让学生在在活动中探索<tspan x="1749" dy="13.6">角的有关知识，但对于比较难理解或容易产生</tspan><tspan x="1749" dy="13.6">错误概念的知识教师仍然加以引导和讲解。如</tspan><tspan x="1749" dy="13.6">周角和平角，学生仅从形状上就普遍认为周角</tspan><tspan x="1749" dy="13.6">是一个圆圈，平角就是一个半圆圈，而不去理</tspan><tspan x="1749" dy="13.6">解它作为角的实质，但这种实质的探索仅仅让</tspan><tspan x="1749" dy="13.6">学生利用活动角或同桌交流是难以实现的，因</tspan><tspan x="1749" dy="13.6">此为了让学生准确理解什么是平角，什么是周</tspan><tspan x="1749" dy="13.6">角，教师在利用活动角示范的基础上进行了讲</tspan><tspan x="1749" dy="13.6">解，这样既让学生真正理解了什么是平角、什</tspan><tspan x="1749" dy="13.6">么是周角，同时也提高了课堂教学效率。</tspan></text></g>
<g id="b2f1"><text class="t" x="1749" y="1953">说明如何导入该课程，主要教学点的设计，知<tspan x="1749" dy="13.6">识拓展等。 第一节 教学要点： 经历从具体物</tspan><tspan x="1749" dy="13.6">体中抽象出角的过程，认识平角、周角，知道</tspan><tspan x="1749" dy="13.6">平角和它们之间的关系，并能按一定标准分类</tspan></text></g>
<g id="b2g1"><text class="t" x="1749" y="2040">一、创设情境，激趣导课</text></g>
<g id="b2g1a"><text class="t" x="1895" y="2040">找一段挖掘机工作视频，放给学生看。</text></g>
<g id="b2h1"><text class="t" x="1907" y="2618">二、探索新知</text></g>
<g id="b2h2"><text class="t" x="1907" y="2986">三、回归生活</text></g>
<g id="b2h3"><text class="t" x="1907" y="3080">四、总结</text></g>
<g id="b2h1a"><text class="t" x="2001" y="2358">(一)认识平角、周角</text></g>
<g id="b2h1b"><text class="t" x="2001" y="2785">(二)角的表示方法</text></g>
<g id="b2h1c"><text class="t" x="2001" y="2879">(三)探索三种角的关系</text></g>
<g id="b2h1a1"><text class="t" x="2121" y="2120">1.学生做各种活动角。</text></g>
<g id="b2h1a1a"><text class="t" x="2255" y="2087">老师课前让大家准备了活动角，请大家把活动<tspan x="2255" dy="13.6">角的两边重合，一边不动，另一条边开始转动</tspan><tspan x="2255" dy="13.6">，就可以得到一个角。然后把你得到的角沿边</tspan><tspan x="2255" dy="13.6">画下来。小组同学说一说，你折的是什么角。</tspan><tspan x="2255" dy="13.6">(小组交流)：哪组的同学愿意上台给大家展示</tspan><tspan x="2255" dy="13.6">一下你们小组折的角?</tspan></text></g>
<g id="b2h1a2"><text class="t" x="2121" y="2201">2.小组汇报交流</text></g>
<g id="b2h1a2a"><text class="t" x="2223" y="2201">展示你们折的角，并告诉同学们它的名称。</text></g>
<g id="b2h1a3"><text class="t" x="2121" y="2268">3. 分类。</text></g>
<g id="b2h1a3a"><text class="t" x="2195" y="2248">这么多角，看起来太乱了，能不能把他们分类<tspan x="2195" dy="13.6">整理一下呢?(小组活动)：把你们小组折的角</tspan><tspan x="2195" dy="13.6">放在一起，分分看。(一组同学在台上分)你们</tspan><tspan x="2195" dy="13.6">是怎么分的?为什么?(学生上台展示)</tspan></text></g>
<g id="b2h1a4"><text class="t" x="2121" y="2396">4.认识平角。</text></g>
<g id="b2h1a4a"><text class="t" x="2213" y="2336">手拿一个活动角，从两边重合开始，一边不动<tspan x="2213" dy="13.6">，另一条边怎样转动，当两条边成一条直线时</tspan><tspan x="2213" dy="13.6">问：这是角吗?为什么?</tspan></text></g>
<g id="b2h1a4b"><text class="t" x="2213" y="2409">我非常欣赏这位同学，他能自觉运用已经学过<tspan x="2213" dy="13.6">的角的定义来解决今天的问题。还有不同意见</tspan><tspan x="2213" dy="13.6">吗? (演示平角的形成过程)同学们请看，这个</tspan><tspan x="2213" dy="13.6">角的两边成一条直线了，我们给它起个名字叫</tspan><tspan x="2213" dy="13.6">平角。(板书)(画平角)： 跟着老师画平角。(示</tspan><tspan x="2213" dy="13.6">范平角的画法)。</tspan></text></g>
<g id="b2h1a5"><text class="t" x="2121" y="2597">5.认识周角。</text></g>
<g id="b2h1a5a"><text class="t" x="2213" y="2523">我们轻松一下，一起来做个游戏</text></g>
<g id="b2h1a5b"><text class="t" x="2213" y="2570">⑴老师先说出一种角，你们利用活动角转出这<tspan x="2213" dy="13.6">种角：开始!锐角!直角!钝角!</tspan></text></g>
<g id="b2h1a5c"><text class="t" x="2213" y="2630">⑵老师转动活动角，你们说出它的名称。开始<tspan x="2213" dy="13.6">! (老师转动一周，两条射线重合)，这是角吗?</tspan><tspan x="2213" dy="13.6">为什么? 师：同学们的回答都很精彩!请看大</tspan><tspan x="2213" dy="13.6">屏幕(课件演示周角的形成过程)，这是一条射</tspan><tspan x="2213" dy="13.6">线绕端点旋转一周组成的图形，我们给它叫周</tspan><tspan x="2213" dy="13.6">角。(板书)(画周角)： 跟着老师画周角。(示范</tspan><tspan x="2213" dy="13.6">周角的画法)。</tspan></text></g>
<g id="b2h1b1"><text class="t" x="2110" y="2758">我们认识了这么多角，角应该怎样表示呢?谁<tspan x="2110" dy="13.6">有好方法? (两生上台板演) 角可以这样表示：</tspan><tspan x="2110" dy="13.6">从一点起，画两条射线，就组成一个角。通常</tspan><tspan x="2110" dy="13.6">用符号“∠”表示。记作“∠1”(或“∠2”等)。读作“</tspan><tspan x="2110" dy="13.6">角一”</tspan></text></g>
<g id="b2h1c1"><text class="t" x="2131" y="2859">直角、平角、周角这三种角之间有什么关系呢<tspan x="2131" dy="13.6">?请小组合作利用手中的材料研究一下。(小组</tspan><tspan x="2131" dy="13.6">汇报)：哪个小组来汇报一下：你们发现了什</tspan><tspan x="2131" dy="13.6">么结论?</tspan></text></g>
<g id="b2h2a"><text class="t" x="2001" y="2946">1. 解决情境中的问题 现在我们来看看铲斗臂<tspan x="2001" dy="13.6">在工作时都形成了哪种角?</tspan></text></g>
<g id="b2h2b"><text class="t" x="2001" y="3007">2. 找出身边的各种角 同学们，你在生活中见<tspan x="2001" dy="13.6">过这些角吗?(生举例) 看到生活中这么多的角</tspan><tspan x="2001" dy="13.6">，你想说什么?</tspan></text></g>
</g>

<g id="b4-nodes">
<g id="b4a"><text class="t" x="1666" y="3127">教学内容：</text></g>
<g id="b4b"><text class="t" x="1666" y="3199">教材分析：</text></g>
<g id="b4c"><text class="t" x="1666" y="3394">教学目标：</text></g>
<g id="b4d"><text class="t" x="1666" y="3561">重点难点：</text></g>
<g id="b4e"><text class="t" x="1666" y="5279">教学过程：</text></g>
<g id="b4a1"><text class="t" x="1749" y="3127">二期教材四年级第一学期课本P22-23</text></g>
<g id="b4b1"><text class="t" x="1749" y="3173">本节内容主要是对常用的面积单位进行一个梳<tspan x="1749" dy="13.6">理，一方面进一步借助学生的低阶面积单位的</tspan><tspan x="1749" dy="13.6">表象累积形成平方千米的表象，另一方面，使</tspan><tspan x="1749" dy="13.6">学生熟悉平方厘米、平方分米、平方米、平方</tspan><tspan x="1749" dy="13.6">千米之间的进率关系，能够进行简单的换算。</tspan></text></g>
<g id="b4c1"><text class="t" x="1749" y="3314">(一)知识与技能</text></g>
<g id="b4c1a"><text class="t" x="1850" y="3274">1、初步学会根据实际需要，选用适当的面积<tspan x="1850" dy="13.6">单位，丰富面积单位的量感。</tspan></text></g>
<g id="b4c1b"><text class="t" x="1850" y="3334">2、借助问题情景，合作探究平方米与平方千<tspan x="1850" dy="13.6">米之间的进率，进一步丰富1平方千米的量感</tspan><tspan x="1850" dy="13.6">。</tspan></text></g>
<g id="b4c2"><text class="t" x="1749" y="3415">(二)过程与方法</text></g>
<g id="b4c2a"><text class="t" x="1850" y="3408">经历常用的面积单位的梳理过程，自主建构面<tspan x="1850" dy="13.6">积单位的换算方法，初步提高整理归纳能力。</tspan></text></g>
<g id="b4c3"><text class="t" x="1749" y="3475">(三)情感与态度</text></g>
<g id="b4c3a"><text class="t" x="1850" y="3468">逐步体会数学与日常生活的密切联系，感知数<tspan x="1850" dy="13.6">学的价值。</tspan></text></g>
<g id="b4d1"><text class="t" x="1749" y="3529">1、丰富1平方千米的量感，掌握常用面积单<tspan x="1749" dy="13.6">位间的换算方法。</tspan></text></g>
<g id="b4d2"><text class="t" x="1749" y="3588">2、理解常用面积单位间进率的推算方法。</text></g>
<g id="b4e1"><text class="t" x="1749" y="4155">一、引入阶段</text></g>
<g id="b4e2"><text class="t" x="1749" y="5057">二、探究阶段</text></g>
<g id="b4e3"><text class="t" x="1749" y="5926">三、运用阶段</text></g>
<g id="b4e4"><text class="t" x="1749" y="6402">四、总结</text></g>
<g id="b4e1a"><text class="t" x="1842" y="3825">1、感受平方千米</text></g>
<g id="b4e1a1"><text class="t" x="1952" y="3635">同学们，你们觉得我们学校大吗?我们泗泾镇<tspan x="1952" dy="13.6">大吗?那么松江区呢?这些区域用我们新学的面</tspan><tspan x="1952" dy="13.6">积单位km2 来表示，是多少呢?请看大屏幕：</tspan><tspan x="1952" dy="13.6">(出示)</tspan></text></g>
<g id="b4e1a2"><text class="t" x="1952" y="3722">我们美丽的校园占地面积约0.03平方千米。</text></g>
<g id="b4e1a3"><text class="t" x="1952" y="3769">我们家园——泗泾镇占地面积约24.2平方千<tspan x="1952" dy="13.6">米。</tspan></text></g>
<g id="b4e1a4"><text class="t" x="1952" y="3829">我们的松江区总面积约604平方千米。</text></g>
<g id="b4e1a5"><text class="t" x="1952" y="3876">你得到了什么信息?有什么感受?你觉得平方千<tspan x="1952" dy="13.6">米常用在什么样的区域?(对比，交流)</tspan></text></g>
<g id="b4e1a6"><text class="t" x="1952" y="3937">小结：平方千米常用来表示面积大的区域。</text></g>
<g id="b4e1a7"><text class="t" x="1952" y="3983">[从学生所处的生活环境展开，通过“区域大”<tspan x="1952" dy="13.6">但表示的“数字小”这一强烈对比，丰富平方千</tspan><tspan x="1952" dy="13.6">米的量感]</tspan></text></g>
<g id="b4e1b"><text class="t" x="1842" y="4140">2、感知常用的小面积单位</text></g>
<g id="b4e1b1"><text class="t" x="1994" y="4057">我们还学过哪些常用的面积单位?谁能从大到<tspan x="1994" dy="13.6">小说出来呢?它们之间的进率是多少呢?让我们</tspan><tspan x="1994" dy="13.6">用手势来比划一下它们的大小吧!1km2能用手</tspan><tspan x="1994" dy="13.6">势来表示吗?(不能)为什么?(1km2太大)</tspan></text></g>
<g id="b4e1b2"><text class="t" x="1994" y="4142">板书</text></g>
<g id="b4e1b3"><text class="t" x="1994" y="4190">km2 1 m2=100dm2 1 dm2=100cm2 [通过<tspan x="1994" dy="13.6">记忆性口答与形象的手势感知，双重复习所学</tspan><tspan x="1994" dy="13.6">面积单位，再现常用面积单位的表象。]</tspan></text></g>
<g id="b4e1c"><text class="t" x="1842" y="4485">3、感知练习</text></g>
<g id="b4e1c1"><text class="t" x="1931" y="4264">同学们对面积单位的量感不错，就让我们打开<tspan x="1931" dy="13.6">课本P23页，完成第三题，比比看，谁填的有</tspan><tspan x="1931" dy="13.6">快又准</tspan></text></g>
<g id="b4e1c2"><text class="t" x="1931" y="4338">在下面( )中填入适当的面积单位(课本23页)。</text></g>
<g id="b4e1c3"><text class="t" x="1931" y="4385">一张邮票的面积约9( )</text></g>
<g id="b4e1c4"><text class="t" x="1931" y="4431">一张乒乓球台面约410( )</text></g>
<g id="b4e1c5"><text class="t" x="1931" y="4478">一间教室的面积约63( )</text></g>
<g id="b4e1c6"><text class="t" x="1931" y="4525">一张软盘的面积约1( )</text></g>
<g id="b4e1c7"><text class="t" x="1931" y="4571">一个排球场占地约162( )</text></g>
<g id="b4e1c8"><text class="t" x="1931" y="4618">上海野生动物园占地约2( )</text></g>
<g id="b4e1c9"><text class="t" x="1931" y="4664">[ 在前面面积单位的充分感知铺垫下，通过填<tspan x="1931" dy="13.6">写适当的单位，促使学生将熟悉实物的某个面</tspan><tspan x="1931" dy="13.6">或某块区域与面积单位建立起联系，既诊断学</tspan><tspan x="1931" dy="13.6">生已学知识的掌握情况，又激活他们已有单位</tspan><tspan x="1931" dy="13.6">面积的量感。]</tspan></text></g>
<g id="b4e2a"><text class="t" x="1842" y="4765">1、情景设疑：通过刚才的单位填写，同学们<tspan x="1842" dy="13.6">对面积单位的都很熟悉了，接着让我们来解决</tspan><tspan x="1842" dy="13.6">前面学习中留下的问题：(出示)如果1 m2可</tspan><tspan x="1842" dy="13.6">以挤下17人，那么1 km2能不能挤得下整个</tspan><tspan x="1842" dy="13.6">上海的人?(上海总人口为16737700人)</tspan></text></g>
<g id="b4e2a1"><text class="t" x="2083" y="4772">要想解决这个问题，我们需要知道什么?同桌<tspan x="2083" dy="13.6">交流：需要知道1 km2等于多少m2，即km2</tspan><tspan x="2083" dy="13.6">与m2之间的进率，就可以求出1 km2可以挤</tspan><tspan x="2083" dy="13.6">多少人，最终把问题解决。</tspan></text></g>
<g id="b4e2b"><text class="t" x="1842" y="4976">2、合作探究：我们知道1 km2就是边长为1 k<tspan x="1842" dy="13.6">m 的正方形的面积，(出示边长为1 km 的正</tspan><tspan x="1842" dy="13.6">方形图形)。</tspan></text></g>
<g id="b4e2b1"><text class="t" x="2083" y="4866">那么km2与m2之间的进率是多少呢?你们能<tspan x="2083" dy="13.6">从1 km2的定义来找出它们之间的进率吗?请</tspan><tspan x="2083" dy="13.6">小组合作完成。</tspan></text></g>
<g id="b4e2b2"><text class="t" x="2083" y="4940">(1)组内尝试解决， 师巡视指导。</text></g>
<g id="b4e2b3"><text class="t" x="2083" y="5009">(2)全班交流解法：(板书)</text></g>
<g id="b4e2b3a"><text class="t" x="2228" y="4986">1km × 1km = 1 km2</text></g>
<g id="b4e2b3b"><text class="t" x="2228" y="5032">1000m× 1000m = 1000000</text></g>
<g id="b4e2b3b1"><text class="t" x="2396" y="5032">m2 1km2=1000000m2</text></g>
<g id="b4e2b4"><text class="t" x="2083" y="5079">(3)再次交流：通过在1km2定义的关系式中把<tspan x="2083" dy="13.6">km转换成m,我们很容易就找到了它们之间的</tspan><tspan x="2083" dy="13.6">关系。现在让我们同桌之间再把这个过程互相</tspan><tspan x="2083" dy="13.6">交流一下。</tspan></text></g>
<g id="b4e2c"><text class="t" x="1842" y="5167">3、问题解决：知道了1km2=1000000m2，<tspan x="1842" dy="13.6">那么1 km2能不能挤得下整个上海的人呢?谁</tspan><tspan x="1842" dy="13.6">来说说看?指名交流。这个结果让你有什么想</tspan><tspan x="1842" dy="13.6">说的吗?</tspan></text></g>
<g id="b4e2d"><text class="t" x="1842" y="5301">4、完善面积单位进率：现在我们已经把所学<tspan x="1842" dy="13.6">的面积单位之间的进率都找到了，请同学们把</tspan><tspan x="1842" dy="13.6">P22的面积单位的关系填写完整。(媒体演示</tspan><tspan x="1842" dy="13.6">课本23页单位面积的累积过程)</tspan></text></g>
<g id="b4e2d1"><text class="t" x="2083" y="5254">1 km2=( )m2 1 m2=( )dm2 1 dm2=( )cm2</text></g>
<g id="b4e2d2"><text class="t" x="2083" y="5301">[通过问题设疑，激发学生的求知欲，让学生<tspan x="2083" dy="13.6">主动去探究km2和m2的进率。为了使学生形</tspan><tspan x="2083" dy="13.6">成清晰的量感，启发学生从定义去推理，把学</tspan><tspan x="2083" dy="13.6">生的思维引入深处，从而让学生在合作的尝试</tspan><tspan x="2083" dy="13.6">计算中直观获得1 km2=1000000m2 。其实</tspan><tspan x="2083" dy="13.6">学生以前在学习平方米，平方分米，平方厘米</tspan><tspan x="2083" dy="13.6">间的进率时已经经历了这样一个推理过程，在</tspan><tspan x="2083" dy="13.6">这里学生运用以往的经验解决今天所学的新问</tspan><tspan x="2083" dy="13.6">题，体现了知识的迁移。通过平方米和平方千</tspan><tspan x="2083" dy="13.6">米间关系的探究，对学生进一步理解单位面积</tspan><tspan x="2083" dy="13.6">的含义和进率的由来，促进学生表象记忆的形</tspan><tspan x="2083" dy="13.6">成都有好处，也激发了学生的求知-和解决问</tspan><tspan x="2083" dy="13.6">题的兴趣，为以下单位换算提供了一个良好的</tspan><tspan x="2083" dy="13.6">情知背景。]</tspan></text></g>
<g id="b4e3a"><text class="t" x="1842" y="5610">1、分层练习：(说出思考过程)</text></g>
<g id="b4e3a1"><text class="t" x="2012" y="5523">(1)25 m2=( )dm 23 km2=( )m2</text></g>
<g id="b4e3a2"><text class="t" x="2012" y="5570">(2)3400 dm2=( )m2 9000000 m2=( )km2<tspan x="2012" dy="13.6">580cm2=( )dm2</tspan></text></g>
<g id="b4e3a3"><text class="t" x="2012" y="5699">(3)70000000 ㎡ -7k㎡=( ) k㎡</text></g>
<g id="b4e3a3a"><text class="t" x="2187" y="5631">[ 学生在三年级时已经积累了一些重量、长度<tspan x="2187" dy="13.6">、面积单位换算的经验，并且会用小数表示单</tspan><tspan x="2187" dy="13.6">位之间的转换。这里先安排两组“从高到低”与</tspan><tspan x="2187" dy="13.6">“从低到高”的单位转换练习，就想让学生通过</tspan><tspan x="2187" dy="13.6">尝试找到换算的一般方法：高级单位化成低级</tspan><tspan x="2187" dy="13.6">单位时乘进率，低级单位聚成高级单位时除以</tspan><tspan x="2187" dy="13.6">进率。从而在思考方法上予以归纳提升，建构</tspan><tspan x="2187" dy="13.6">单位换算的基本策略，接着出示带有不同单位</tspan><tspan x="2187" dy="13.6">的计算题，提高学生的综合运用能力。同时借</tspan><tspan x="2187" dy="13.6">助学生思考过程的表达，便于检测学生对方法</tspan><tspan x="2187" dy="13.6">的理解，发展他们的演绎思维。]</tspan></text></g>
<g id="b4e3b"><text class="t" x="1842" y="5929">2、拓展练习(同桌讨论)</text></g>
<g id="b4e3b1"><text class="t" x="1981" y="5812">判断下列各题是否正确，错的请改正。</text></g>
<g id="b4e3b2"><text class="t" x="1981" y="5859">(1)一个铅笔盒表面的宽度约5 c㎡</text></g>
<g id="b4e3b3"><text class="t" x="1981" y="5905">(2)教室的面积约30d㎡</text></g>
<g id="b4e3b4"><text class="t" x="1981" y="5952">(3) 一个粉笔盒的表面约0.75 c㎡</text></g>
<g id="b4e3b5"><text class="t" x="1981" y="6046">(4)上海市的总面积约6341000000k ㎡</text></g>
<g id="b4e3b5a"><text class="t" x="2190" y="5999">[ 在实际应用中，学生往往对长度单位和面积<tspan x="2190" dy="13.6">单位容易混淆，并且在选用面积单位时不善于</tspan><tspan x="2190" dy="13.6">实际问题的需要。通过判断纠错练习，一方面</tspan><tspan x="2190" dy="13.6">强化长度单位和面积单位的区别，另一方面想</tspan><tspan x="2190" dy="13.6">从“数”与“量”两个维度探索修改的方法(修正</tspan><tspan x="2190" dy="13.6">数据或计量单位)，既巩固了单位面积的大小</tspan><tspan x="2190" dy="13.6">观念，又渗透小数点位置移动引起数的大小变</tspan><tspan x="2190" dy="13.6">化的思想，拓展了学生的思维。]</tspan></text></g>
<g id="b4e3c"><text class="t" x="1842" y="6241">3、生活应用：(小组合作)</text></g>
<g id="b4e3c1"><text class="t" x="1991" y="6140">出示：为了扩大我国的绿化面积，人们要在长<tspan x="1991" dy="13.6">3km，宽2km的一块长方形的高原上植树，</tspan><tspan x="1991" dy="13.6">如果每平方米栽1棵树， 运来60万棵树苗够</tspan><tspan x="1991" dy="13.6">吗?</tspan></text></g>
<g id="b4e3c2"><text class="t" x="1991" y="6227">解决这个问题我们要先算出什么?需要注意什<tspan x="1991" dy="13.6">么?写出你们的解题过程。交流探讨并板书解</tspan><tspan x="1991" dy="13.6">题过程。</tspan></text></g>
<g id="b4e3c3"><text class="t" x="1991" y="6301">[通过问题解决，再现本节课的重点新知“平方<tspan x="1991" dy="13.6">千米与平方米的转化”，同时让学生通过层层</tspan><tspan x="1991" dy="13.6">问题的分析，理清问题解决的思路，拓展思维</tspan><tspan x="1991" dy="13.6">，感受数学在生活问题解决中的应用价值。]</tspan></text></g>
<g id="b4e4a"><text class="t" x="1820" y="6389">这节课我们一起整理了“从平方厘米到平方千<tspan x="1820" dy="13.6">米”(板书)的面积单位，谁来谈谈这节课中你</tspan><tspan x="1820" dy="13.6">的收获?</tspan></text></g>
</g>
</g>
</svg>
